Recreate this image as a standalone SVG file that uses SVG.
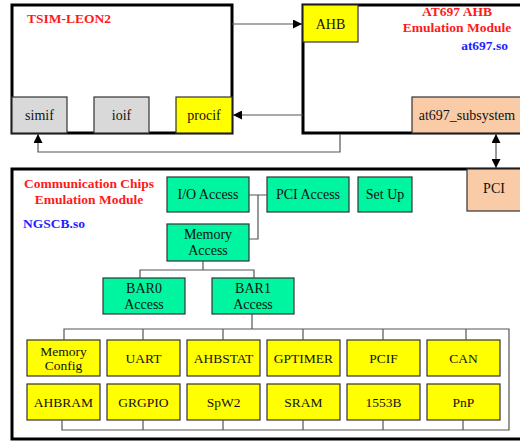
<svg xmlns="http://www.w3.org/2000/svg" width="520" height="441" viewBox="0 0 520 441">
<defs>
<style>
.frame{fill:#fff;stroke:#000;stroke-width:3}
.box{stroke:#333;stroke-width:1.2}
.g{fill:#d9d9d9}.y{fill:#ffff00}.p{fill:#f9cba7}.n{fill:#00f5a0}
.t{font-family:"Liberation Serif","Times New Roman",serif;font-size:14px;fill:#111;text-anchor:middle;dominant-baseline:central}
.s{font-size:13.5px}
.xs{font-size:13.5px}
.red{font-family:"Liberation Serif","Times New Roman",serif;font-weight:bold;font-size:13.5px;fill:#ff1a1a}
.blue{font-family:"Liberation Serif","Times New Roman",serif;font-weight:bold;font-size:13.5px;fill:#1f1fff}
.c{fill:none;stroke:#555;stroke-width:1.2}
</style>
<marker id="ah" viewBox="0 0 10 10" refX="10" refY="5" markerWidth="9" markerHeight="9" markerUnits="userSpaceOnUse" orient="auto-start-reverse">
<path d="M0,0 L10,5 L0,10 z" fill="#000"/>
</marker>
</defs>
<rect width="520" height="441" fill="#fff"/>

<g id="tsim">
<rect class="frame" x="12" y="5" width="220" height="128"/>
<text class="red" x="27" y="23">TSIM-LEON2</text>
</g>
<g id="simif"><rect class="box g" x="12" y="97" width="55" height="36"/><text class="t" x="39.5" y="115">simif</text></g>
<g id="ioif"><rect class="box g" x="94" y="97" width="55" height="36"/><text class="t" x="121.5" y="115">ioif</text></g>
<g id="procif"><rect class="box y" x="176" y="97" width="56" height="36"/><text class="t" x="204" y="115">procif</text></g>

<g id="at697">
<rect class="frame" x="303" y="5" width="232" height="128"/>
<text class="red" x="457" y="16" text-anchor="middle">AT697 AHB</text>
<text class="red" x="457" y="32" text-anchor="middle">Emulation Module</text>
<text class="blue" x="508" y="50" text-anchor="end">at697.so</text>
</g>
<g id="ahb"><rect class="box y" x="303" y="5" width="55" height="37"/><text class="t" x="330.5" y="24">AHB</text></g>
<g id="at697_subsystem"><rect class="box p" x="412" y="97" width="120" height="36"/><text class="t" x="467" y="115">at697_subsystem</text></g>

<g id="comm">
<rect class="frame" x="12" y="169" width="530" height="270"/>
<text class="red" x="89" y="188" text-anchor="middle">Communication Chips</text>
<text class="red" x="89" y="204" text-anchor="middle">Emulation Module</text>
<text class="blue" x="23" y="228">NGSCB.so</text>
</g>
<g id="pci"><rect class="box p" x="467" y="169" width="60" height="42"/><text class="t" x="494" y="188">PCI</text></g>

<g id="io_access"><rect class="box n" x="167" y="177" width="82" height="35"/><text class="t" x="208" y="194.5">I/O Access</text></g>
<g id="pci_access"><rect class="box n" x="267" y="177" width="82" height="35"/><text class="t" x="308" y="194.5">PCI Access</text></g>
<g id="setup"><rect class="box n" x="358" y="177" width="54" height="35"/><text class="t" x="385" y="194.5">Set Up</text></g>
<g id="memory_access"><rect class="box n" x="167" y="224" width="82" height="37"/><text class="t" x="208" y="234">Memory</text><text class="t" x="208" y="250">Access</text></g>
<g id="bar0"><rect class="box n" x="103" y="278" width="82" height="36"/><text class="t" x="144" y="288">BAR0</text><text class="t" x="144" y="304">Access</text></g>
<g id="bar1"><rect class="box n" x="212" y="278" width="82" height="36"/><text class="t" x="253" y="288">BAR1</text><text class="t" x="253" y="304">Access</text></g>

<g id="memory_config"><rect class="box y" x="27" y="340" width="73" height="36"/><text class="t xs" x="63.5" y="351.5">Memory</text><text class="t xs" x="63.5" y="365">Config</text></g>
<g id="uart"><rect class="box y" x="107" y="340" width="73" height="36"/><text class="t s" x="143.5" y="358">UART</text></g>
<g id="ahbstat"><rect class="box y" x="187" y="340" width="73" height="36"/><text class="t s" x="223.5" y="358">AHBSTAT</text></g>
<g id="gptimer"><rect class="box y" x="267" y="340" width="73" height="36"/><text class="t s" x="303.5" y="358">GPTIMER</text></g>
<g id="pcif"><rect class="box y" x="347" y="340" width="73" height="36"/><text class="t s" x="383.5" y="358">PCIF</text></g>
<g id="can"><rect class="box y" x="427" y="340" width="73" height="36"/><text class="t s" x="463.5" y="358">CAN</text></g>
<g id="ahbram"><rect class="box y" x="27" y="384" width="73" height="36"/><text class="t s" x="63.5" y="402">AHBRAM</text></g>
<g id="grgpio"><rect class="box y" x="107" y="384" width="73" height="36"/><text class="t s" x="143.5" y="402">GRGPIO</text></g>
<g id="spw2"><rect class="box y" x="187" y="384" width="73" height="36"/><text class="t s" x="223.5" y="402">SpW2</text></g>
<g id="sram"><rect class="box y" x="267" y="384" width="73" height="36"/><text class="t s" x="303.5" y="402">SRAM</text></g>
<g id="b1553"><rect class="box y" x="347" y="384" width="73" height="36"/><text class="t s" x="383.5" y="402">1553B</text></g>
<g id="pnp"><rect class="box y" x="427" y="384" width="73" height="36"/><text class="t s" x="463.5" y="402">PnP</text></g>

<g id="connectors">
<path class="c" d="M232,24 H302" marker-end="url(#ah)"/>
<path class="c" d="M303,115 H233" marker-end="url(#ah)"/>
<path class="c" d="M340,134 V152 H38 V134" marker-end="url(#ah)"/>
<path class="c" d="M496,134 V168" marker-start="url(#ah)" marker-end="url(#ah)"/>
<path class="c" d="M249,195 H267 M258,195 V239 H249"/>
<path class="c" d="M203,261 V270 M140,278 V270 H254 V278"/>
<path class="c" d="M252,314 V329"/>
<path class="c" d="M64,340 V329 H509 V430 H62 V420"/>
<path class="c" d="M143,329 V340 M223,329 V340 M303,329 V340 M383,329 V340 M466,329 V340"/>
<path class="c" d="M143,420 V430 M223,420 V430 M303,420 V430 M383,420 V430 M463,420 V430"/>
</g>
</svg>
